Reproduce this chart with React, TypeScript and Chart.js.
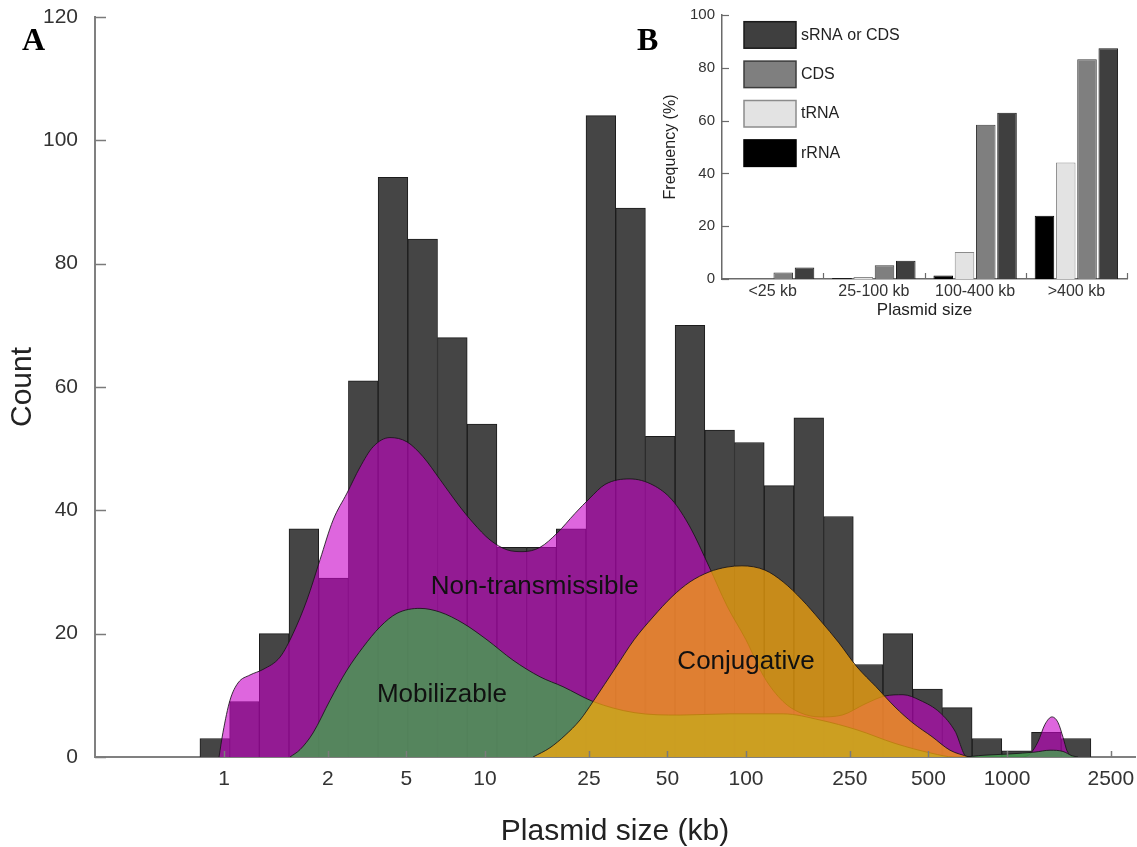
import React, { useEffect, useRef } from 'react';
import { Chart, registerables } from 'chart.js';

Chart.register(...registerables);

// ---------------- Panel A data ----------------
const binCentersKb = [
  0.9217, 1.1978, 1.5566, 2.0229, 2.6288, 3.4163, 4.4396, 5.7694, 7.4975, 9.7434,
  12.663, 16.454, 21.384, 27.789, 36.113, 46.930, 60.988, 79.256, 103.00, 133.85,
  173.94, 226.04, 293.75, 381.74, 496.09, 644.70, 837.80, 1088.7, 1414.9, 1838.7,
];
const binCounts = [
  3, 9, 20, 37, 29, 61, 94, 84, 68, 54,
  34, 34, 37, 104, 89, 52, 70, 53, 51, 44,
  55, 39, 15, 20, 11, 8, 3, 1, 4, 3,
];

const xTickValues = [1, 2.5, 5, 10, 25, 50, 100, 250, 500, 1000, 2500];
const xTickLabels = ['1', '2', '5', '10', '25', '50', '100', '250', '500', '1000', '2500'];

const nonTransKb = [
  0.957, 0.991, 1.054, 1.131, 1.258, 1.411, 1.639, 1.838, 2.080, 2.333,
  2.616, 2.960, 3.320, 3.724, 4.325, 5.024, 5.788, 6.724, 7.811, 8.995,
  10.45, 12.14, 13.98, 16.25, 18.88, 22.12, 25.25, 28.83, 35.94, 44.02,
  52.06, 61.02, 72.15, 84.58, 100, 117.2, 138.7, 161.0, 192.1, 233.3,
  285.7, 340.9, 399.5, 464.2, 553.7, 632.1, 702.6, 940, 1121, 1225,
  1315, 1398, 1487, 1568, 1639, 1698, 1775,
];
const nonTransCount = [
  0, 4, 9.2, 12, 13.3, 14.2, 16.2, 20, 25.5, 32,
  38.4, 42.8, 47, 50.3, 51.8, 51.1, 48.7, 45, 41.2, 38,
  35.2, 33.6, 33.3, 34, 36.3, 39.5, 42, 44.2, 45.1, 44.1,
  41.7, 37.3, 30.9, 24.5, 19, 13, 9, 7.2, 6.5, 6.8,
  8.6, 9.9, 10.1, 9.2, 7.2, 4.2, 0, 0, 0, 0.5,
  2.5, 5.3, 6.5, 5.6, 3.2, 1.0, 0,
];

const mobKb = [
  1.790, 1.956, 2.193, 2.548, 2.960, 3.409, 3.960, 4.601, 5.636, 6.724,
  8.235, 10.18, 12.80, 16.25, 19.90, 25.94, 37.24, 55.86, 86.84, 138.7,
  192.1, 266.3, 372.4, 516.0, 626.6, 660.6, 823.6, 1027, 1280, 1461,
  1639, 1775, 1871,
];
const mobCount = [
  0, 1.2, 3.9, 9.2, 14.1, 17.8, 21.1, 23.3, 24.1, 23.5,
  21.7, 19, 15.7, 13, 11.4, 9.0, 7.2, 6.8, 7.0, 7.0,
  6.0, 4.4, 2.2, 0.6, 0, 0, 0.3, 0.5, 0.8, 1.1,
  0.9, 0.2, 0,
];

const conjKb = [
  15.28, 17.74, 20.25, 23.12, 25.94, 31.77, 37.24, 44.02, 52.06, 61.02,
  72.15, 84.58, 96.54, 118.3, 138.7, 163.9, 192.1, 227.1, 266.3, 314.8,
  372.4, 436.3, 516.0, 604.8, 715.1,
];
const conjCount = [
  0, 1.5, 3.5, 6, 9, 14.6, 19, 22.7, 26, 28.4,
  30, 30.8, 31, 30.3, 28.4, 25.5, 22.2, 18.5, 14.6, 11.4,
  8.1, 5.5, 3.3, 1.1, 0,
];

const curveLabelText = ['Non-transmissible', 'Mobilizable', 'Conjugative'];
const curveLabelKb = [15.5, 6.84, 100];
const curveLabelCount = [27.6, 10.05, 15.4];

// ---------------- Panel B data ----------------
const sizeClasses = ['<25 kb', '25-100 kb', '100-400 kb', '>400 kb'];
const rRNAFreq = [0, 0.4, 1.3, 24];
const tRNAFreq = [0, 0.8, 10.2, 44.1];
const cdsFreq = [2.5, 5.2, 58.4, 83.2];
const sRNAorCDSFreq = [4.4, 6.9, 63, 87.4];

const SANS = '"Liberation Sans", Arial, Helvetica, sans-serif';
const SERIF = '"Liberation Serif", "Times New Roman", serif';

const zip = (xs: number[], ys: number[]) => xs.map((x, i) => ({ x, y: ys[i] }));

const mainDecor = {
  id: 'mainDecor',
  afterDatasetsDraw(chart: any) {
    const { ctx, chartArea, scales } = chart;
    const xs = scales.x;
    const ys = scales.y;
    ctx.save();
    ctx.font = `26px ${SANS}`;
    ctx.fillStyle = '#111';
    ctx.textAlign = 'center';
    ctx.textBaseline = 'middle';
    curveLabelText.forEach((t, i) => {
      ctx.fillText(t, xs.getPixelForValue(curveLabelKb[i]), ys.getPixelForValue(curveLabelCount[i]));
    });
    ctx.strokeStyle = '#7a7a7a';
    ctx.lineWidth = 1.5;
    ys.ticks.forEach((t: any) => {
      const py = Math.round(ys.getPixelForValue(t.value)) + 0.5;
      ctx.beginPath();
      ctx.moveTo(chartArea.left, py);
      ctx.lineTo(chartArea.left + 11, py);
      ctx.stroke();
    });
    xs.ticks.forEach((t: any) => {
      const px = Math.round(xs.getPixelForValue(t.value)) + 0.5;
      ctx.beginPath();
      ctx.moveTo(px, chartArea.bottom);
      ctx.lineTo(px, chartArea.bottom - 6);
      ctx.stroke();
    });
    ctx.font = `bold 32px ${SERIF}`;
    ctx.fillStyle = '#000';
    ctx.textAlign = 'left';
    ctx.textBaseline = 'alphabetic';
    ctx.fillText('A', 22, 50);
    ctx.restore();
  },
};

const insetDecor = {
  id: 'insetDecor',
  afterDraw(chart: any) {
    const { ctx, chartArea, scales } = chart;
    const xs = scales.x;
    const ys = scales.y;
    ctx.save();
    ctx.strokeStyle = '#6a6a6a';
    ctx.lineWidth = 1.2;
    ys.ticks.forEach((t: any) => {
      const py = Math.round(ys.getPixelForValue(t.value)) + 0.5;
      ctx.beginPath();
      ctx.moveTo(chartArea.left, py);
      ctx.lineTo(chartArea.left + 7, py);
      ctx.stroke();
    });
    const n = sizeClasses.length;
    for (let i = 0; i < n; i++) {
      const px = i < n - 1
        ? (xs.getPixelForValue(i) + xs.getPixelForValue(i + 1)) / 2
        : chartArea.right;
      const rx = Math.round(px) + 0.5;
      ctx.beginPath();
      ctx.moveTo(rx, chartArea.bottom);
      ctx.lineTo(rx, chartArea.bottom - 6);
      ctx.stroke();
    }
    // legend (top entry = last dataset)
    const ds = chart.data.datasets.slice().reverse();
    ds.forEach((d: any, i: number) => {
      const bx = chartArea.left + 22;
      const by = chartArea.top + 6.7 + i * 39.4;
      ctx.fillStyle = d.backgroundColor;
      ctx.fillRect(bx, by, 52, 26.5);
      ctx.strokeStyle = d.borderColor;
      ctx.lineWidth = 1.5;
      ctx.strokeRect(bx, by, 52, 26.5);
      ctx.fillStyle = '#222';
      ctx.font = `16px ${SANS}`;
      ctx.textAlign = 'left';
      ctx.textBaseline = 'middle';
      ctx.fillText(d.label, bx + 57, by + 13.5);
    });
    ctx.font = `bold 32px ${SERIF}`;
    ctx.fillStyle = '#000';
    ctx.textAlign = 'left';
    ctx.textBaseline = 'alphabetic';
    ctx.fillText('B', 7, 50);
    ctx.restore();
  },
};

export default function App() {
  const mainRef = useRef<HTMLCanvasElement>(null);
  const insetRef = useRef<HTMLCanvasElement>(null);

  useEffect(() => {
    document.body.style.margin = '0';
    Chart.defaults.font.family = SANS;

    const lineBase = {
      type: 'line' as const,
      pointRadius: 0,
      borderWidth: 1,
      borderColor: 'rgba(25,20,25,0.85)',
      fill: 'origin',
      cubicInterpolationMode: 'monotone' as const,
    };

    const main = new Chart(mainRef.current as HTMLCanvasElement, {
      type: 'bar',
      data: {
        datasets: [
          {
            type: 'bar',
            label: 'Count',
            data: zip(binCentersKb, binCounts),
            backgroundColor: '#454545',
            borderColor: '#1c1c1c',
            borderWidth: 1,
            barPercentage: 1,
            categoryPercentage: 1,
            order: 4,
          } as any,
          { ...lineBase, label: 'Non-transmissible', data: zip(nonTransKb, nonTransCount), backgroundColor: 'rgba(200,0,200,0.6)', order: 3 } as any,
          { ...lineBase, label: 'Mobilizable', data: zip(mobKb, mobCount), backgroundColor: 'rgba(70,160,80,0.8)', order: 2 } as any,
          { ...lineBase, label: 'Conjugative', data: zip(conjKb, conjCount), backgroundColor: 'rgba(255,170,8,0.7)', order: 1 } as any,
        ],
      },
      options: {
        responsive: false,
        animation: false,
        events: [],
        layout: { padding: { top: 17, right: 2, left: 0, bottom: 0 } },
        plugins: { legend: { display: false }, tooltip: { enabled: false } },
        scales: {
          x: {
            type: 'logarithmic',
            bounds: 'data',
            offset: false,
            min: 0.3204,
            max: 3093,
            grid: { display: false, drawTicks: false },
            border: { display: true, color: '#808080', width: 2 },
            afterBuildTicks: (axis: any) => {
              axis.ticks = xTickValues.map((v) => ({ value: v }));
            },
            afterFit: (s: any) => {
              s.height = 90;
              s.paddingLeft = 0;
              s.paddingRight = 0;
            },
            ticks: {
              autoSkip: false,
              maxRotation: 0,
              minRotation: 0,
              padding: 10,
              color: '#333',
              font: { size: 21 },
              callback: (_v: any, i: number) => xTickLabels[i],
            },
            title: {
              display: true,
              text: 'Plasmid size (kb)',
              color: '#222',
              font: { size: 30 },
              padding: { top: 0, bottom: -3 },
            },
          } as any,
          y: {
            min: 0,
            max: 120,
            grid: { display: false, drawTicks: false },
            border: { display: true, color: '#808080', width: 2 },
            afterFit: (s: any) => {
              s.width = 95;
              s.paddingTop = 0;
              s.paddingBottom = 0;
            },
            ticks: { stepSize: 20, padding: 17, color: '#333', font: { size: 21 } },
            title: {
              display: true,
              text: 'Count',
              color: '#222',
              font: { size: 30 },
              padding: { top: 5, bottom: 0 },
            },
          } as any,
        },
      },
      plugins: [mainDecor],
    } as any);

    const inset = new Chart(insetRef.current as HTMLCanvasElement, {
      type: 'bar',
      data: {
        labels: sizeClasses,
        datasets: [
          { label: 'rRNA', data: rRNAFreq, backgroundColor: '#000000', borderColor: '#000000', borderWidth: 1 },
          { label: 'tRNA', data: tRNAFreq, backgroundColor: '#e3e3e3', borderColor: '#8c8c8c', borderWidth: 1 },
          { label: 'CDS', data: cdsFreq, backgroundColor: '#7f7f7f', borderColor: '#3c3c3c', borderWidth: 1 },
          { label: 'sRNA or CDS', data: sRNAorCDSFreq, backgroundColor: '#3f3f3f', borderColor: '#1a1a1a', borderWidth: 1 },
        ],
      },
      options: {
        responsive: false,
        animation: false,
        events: [],
        datasets: { bar: { categoryPercentage: 0.84, barPercentage: 0.92 } },
        layout: { padding: { top: 15, right: 10, left: 0, bottom: 0 } },
        plugins: { legend: { display: false }, tooltip: { enabled: false } },
        scales: {
          x: {
            grid: { display: false, drawTicks: false },
            border: { display: true, color: '#6a6a6a', width: 1.5 },
            afterFit: (s: any) => {
              s.height = 51;
              s.paddingLeft = 0;
              s.paddingRight = 0;
            },
            ticks: { padding: 3, color: '#333', font: { size: 16 }, maxRotation: 0, autoSkip: false },
            title: {
              display: true,
              text: 'Plasmid size',
              color: '#222',
              font: { size: 17 },
              padding: { top: 0, bottom: 9 },
            },
          } as any,
          y: {
            min: 0,
            max: 100,
            grid: { display: false, drawTicks: false },
            border: { display: true, color: '#6a6a6a', width: 1.5 },
            afterFit: (s: any) => {
              s.width = 92;
              s.paddingTop = 0;
              s.paddingBottom = 0;
            },
            ticks: { stepSize: 20, padding: 7, color: '#333', font: { size: 15 } },
            title: {
              display: true,
              text: 'Frequency (%)',
              color: '#222',
              font: { size: 16 },
              padding: { top: 31, bottom: 0 },
            },
          } as any,
        },
      },
      plugins: [insetDecor],
    } as any);

    return () => {
      main.destroy();
      inset.destroy();
    };
  }, []);

  return (
    <div style={{ position: 'relative', width: 1137, height: 847, background: '#ffffff' }}>
      <canvas ref={mainRef} width={1137} height={847} style={{ position: 'absolute', left: 0, top: 0 }} />
      <canvas ref={insetRef} width={507} height={330} style={{ position: 'absolute', left: 630, top: 0 }} />
    </div>
  );
}
